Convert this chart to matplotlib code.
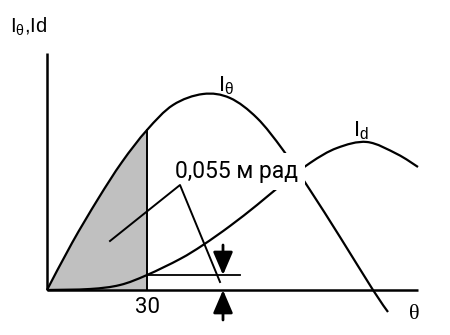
import numpy as np
import matplotlib
matplotlib.use("Agg")
import matplotlib.pyplot as plt
from matplotlib.path import Path
from matplotlib.patches import PathPatch

plt.rcParams['mathtext.fontset'] = 'custom'
plt.rcParams['mathtext.rm'] = 'Liberation Sans'
plt.rcParams['mathtext.it'] = 'Liberation Sans'
plt.rcParams['mathtext.default'] = 'regular'

# angle theta (deg) and intensity curves
theta_i = [0, 7.5, 15.3, 22.5, 30, 37.8, 46.8, 54.9, 63.0, 70.8, 78.9, 87.9, 97.8, 102.3]
i_theta = [0, 23.5, 45.5, 64, 80, 92.5, 98, 96, 86, 70, 50, 26.5, 0, -11]

theta_d = [0, 12.9, 21.9, 30, 39.9, 46.8, 54.9, 63, 69.9, 78.9, 87, 96, 105, 111.3]
i_d = [0, 0.5, 2.5, 7.5, 15.5, 22.5, 32, 42.5, 52, 63.5, 71, 74, 68, 61.5]

theta_mark = 30
tick_labels = ["30"]
width_label = "0,055 м рад"


def bezier(xs, ys):
    """Catmull-Rom through the points, returned as cubic Bezier segments."""
    pts = np.column_stack([xs, ys]).astype(float)
    n = len(pts)
    verts = [pts[0]]
    codes = [Path.MOVETO]
    for i in range(n - 1):
        p0 = pts[max(i - 1, 0)]
        p1 = pts[i]
        p2 = pts[i + 1]
        p3 = pts[min(i + 2, n - 1)]
        verts += [p1 + (p2 - p0) / 6, p2 - (p3 - p1) / 6, p2]
        codes += [Path.CURVE4] * 3
    return verts, codes


fig = plt.figure(figsize=(4.5, 3.35), dpi=100)
ax = fig.add_axes([0, 0, 1, 1])
ax.set_xlim(-14.1, 120.9)
ax.set_ylim(-22.5, 145)
ax.axis('off')

# axes lines
ax.plot([0, 0], [0, 118.5], color='k', lw=1.8, solid_capstyle='butt', zorder=5)
ax.plot([0, 111.3], [0, 0], color='k', lw=1.8, solid_capstyle='butt', zorder=5)

# I_theta curve and shaded area up to theta = 30
v, c = bezier(theta_i, i_theta)
ax.add_patch(PathPatch(Path(v, c), fill=False, lw=1.6, ec='k', zorder=2))
k = theta_i.index(theta_mark)
sv = v[:3 * k + 1] + [(theta_mark, 0), (0, 0)]
sc = c[:3 * k + 1] + [Path.LINETO, Path.CLOSEPOLY]
ax.add_patch(PathPatch(Path(sv, sc), fc='#c0c0c0', ec='none', zorder=1))
ax.plot([theta_mark, theta_mark], [0, i_theta[k]], color='k', lw=1.4, zorder=2)

# I_d curve
v, c = bezier(theta_d, i_d)
ax.add_patch(PathPatch(Path(v, c), fill=False, lw=1.6, ec='k', zorder=2))

# level of I_d at theta = 30
level = i_d[theta_d.index(theta_mark)]
ax.plot([theta_mark, 57.9], [level, level], color='k', lw=1.3, zorder=2)

# arrows marking the small I_d value
arrow = dict(arrowstyle='-|>,head_width=0.6,head_length=1.4', color='k',
             lw=2, shrinkA=0, shrinkB=0, mutation_scale=10)
ax.annotate('', xy=(52.8, level), xytext=(52.8, 22.5), arrowprops=arrow, zorder=4)
ax.annotate('', xy=(52.8, 0), xytext=(52.8, -15), arrowprops=arrow, zorder=4)

# leader lines of the width label
ax.plot([18.9, 39.9, 51.9], [24.5, 52.5, 4], color='k', lw=1.4, zorder=4)

ax.text(38.4, 56, width_label, fontsize=16.5, family='Roboto', ha='left',
        va='baseline', zorder=3,
        bbox=dict(fc='white', ec='none', pad=5))

ax.text(theta_mark, -8.75, tick_labels[0], fontsize=16, family='Roboto',
        ha='center', va='center')
ax.text(110.1, -12.25, 'θ', fontsize=16, family='Liberation Serif',
        ha='center', va='center')

ax.text(51.3, 99.5, r'I$_\theta$', fontsize=16, family='Liberation Sans',
        ha='left', va='baseline')
ax.text(91.8, 77, r'I$_d$', fontsize=16, family='Liberation Sans',
        ha='left', va='baseline')
ax.text(-11.1, 128.5, r'I$_\theta$,Id', fontsize=14.5, family='Liberation Sans',
        ha='left', va='baseline')

fig.savefig('out.png', dpi=100)
